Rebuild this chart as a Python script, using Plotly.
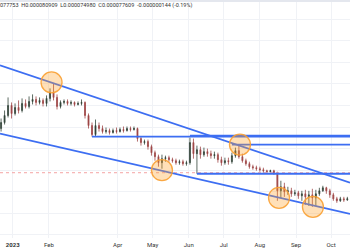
import numpy as np
import pandas as pd
import plotly.graph_objects as go

SCALE = 1e-7  # prices below are in units of 0.0000001

dates = pd.date_range("2022-12-22", periods=100, freq="3D")

open_ = [864, 876, 890, 910, 894, 906, 900, 914, 908, 918,
         922, 916, 920, 914, 924, 936, 926, 908, 916, 918,
         914, 916, 912, 914, 916, 890, 870, 852, 870, 864,
         858, 860, 856, 860, 858, 862, 860, 864, 862, 864,
         844, 836, 838, 828, 816, 808, 796, 804, 806, 802,
         800, 796, 798, 794, 796, 836, 814, 822, 812, 818,
         814, 810, 812, 802, 796, 800, 798, 810, 820, 808,
         800, 794, 788, 786, 784, 782, 780, 778, 780, 776,
         740, 748, 738, 740, 734, 736, 730, 734, 728, 732,
         726, 734, 740, 746, 740, 732, 724, 720, 724, 722]
close = [876, 890, 910, 894, 906, 900, 914, 908, 918, 922,
         916, 920, 914, 924, 936, 926, 908, 916, 918, 914,
         916, 912, 914, 916, 890, 870, 852, 870, 864, 858,
         860, 856, 860, 858, 862, 860, 864, 862, 864, 844,
         836, 838, 828, 816, 808, 796, 804, 806, 802, 800,
         796, 798, 794, 796, 836, 814, 822, 812, 818, 814,
         810, 812, 802, 796, 800, 798, 810, 820, 808, 800,
         794, 788, 786, 784, 782, 780, 778, 780, 776, 740,
         748, 738, 740, 734, 736, 730, 734, 728, 732, 726,
         734, 740, 746, 740, 732, 724, 720, 724, 722, 724]
high = [884, 900, 926, 916, 914, 920, 924, 922, 928, 932,
        928, 926, 924, 930, 944, 954, 932, 920, 922, 922,
        920, 918, 918, 922, 918, 894, 876, 882, 876, 870,
        866, 864, 864, 866, 866, 868, 868, 868, 868, 866,
        848, 842, 842, 832, 820, 812, 812, 810, 810, 806,
        804, 802, 802, 800, 846, 844, 830, 828, 826, 824,
        820, 818, 816, 808, 806, 806, 816, 826, 830, 814,
        804, 798, 792, 790, 788, 786, 782, 782, 782, 778,
        760, 756, 748, 746, 742, 740, 740, 742, 740, 744,
        742, 746, 750, 748, 744, 736, 728, 728, 728, 728]
low = [858, 872, 886, 884, 890, 894, 896, 904, 904, 912,
       910, 912, 908, 908, 918, 920, 902, 904, 912, 910,
       910, 908, 910, 910, 884, 864, 848, 848, 858, 854,
       854, 852, 854, 854, 856, 856, 858, 858, 860, 838,
       830, 832, 822, 810, 800, 788, 784, 798, 798, 796,
       792, 792, 790, 790, 792, 804, 774, 804, 808, 808,
       804, 804, 796, 790, 792, 792, 794, 806, 804, 796,
       790, 784, 782, 780, 778, 776, 774, 776, 772, 720,
       726, 728, 732, 728, 730, 724, 720, 712, 710, 708,
       710, 730, 738, 734, 726, 720, 716, 718, 718, 720]

# view window
X_START, X_END = "2022-12-21 02:00", "2023-10-17 07:00"
Y_MIN, Y_MAX = 646, 1120

# drawn trend channel (dates, prices)
upper_x, upper_y = [X_START, X_END], [990, 756]
lower_x, lower_y = [X_START, X_END], [854, 694]

# horizontal levels: start date and price
level_start = ["2023-03-10", "2023-06-02", "2023-07-08", "2023-06-08"]
level_price = [848, 850, 832, 774]

last_price = 776

# highlighted touch points
touch_x = ["2023-02-03 07:00", "2023-05-09", "2023-07-14 22:00",
           "2023-08-17 10:00", "2023-09-15 12:00"]
touch_y = [956, 781, 832, 726, 708]

tick_dates = ["2023-01-01", "2023-02-01", "2023-04-01", "2023-05-01", "2023-06-01",
              "2023-07-01", "2023-08-01", "2023-09-01", "2023-10-01"]
tick_text = ["<b>2023</b>", "Feb", "Apr", "May", "Jun", "Jul", "Aug", "Sep", "Oct"]

header = "077753  H0.000080909  L0.000074980  C0.000077609  -0.000000144 (-0.19%)"

s = lambda a: (np.array(a, dtype=float) * SCALE).tolist()

BLUE = "#3d6ef2"
fig = go.Figure()
fig.add_trace(go.Candlestick(
    x=dates, open=s(open_), high=s(high), low=s(low), close=s(close),
    increasing=dict(line=dict(color="#34453a", width=0.8), fillcolor="#2a3a30"),
    decreasing=dict(line=dict(color="#a04848", width=0.8), fillcolor="#9a4242"),
    whiskerwidth=0, showlegend=False, hoverinfo="skip"))

fig.add_trace(go.Scatter(x=[X_START, X_END], y=s([last_price, last_price]), mode="lines",
                         line=dict(color="#f4a3a3", width=1, dash="dot"), showlegend=False,
                         hoverinfo="skip"))
fig.add_trace(go.Scatter(x=upper_x, y=s(upper_y), mode="lines",
                         line=dict(color=BLUE, width=1.8), showlegend=False, hoverinfo="skip"))
fig.add_trace(go.Scatter(x=lower_x, y=s(lower_y), mode="lines",
                         line=dict(color=BLUE, width=1.8), showlegend=False, hoverinfo="skip"))
for d0, p in zip(level_start, level_price):
    fig.add_trace(go.Scatter(x=[d0, X_END], y=s([p, p]), mode="lines",
                             line=dict(color=BLUE, width=1.8), showlegend=False,
                             hoverinfo="skip"))
fig.add_trace(go.Scatter(x=touch_x, y=s(touch_y), mode="markers",
                         marker=dict(size=21, color="rgba(255,160,40,0.33)",
                                     line=dict(color="rgba(250,160,50,0.9)", width=1.3)),
                         showlegend=False, hoverinfo="skip"))

fig.update_layout(
    width=350, height=250, margin=dict(l=0, r=0, t=0, b=12),
    paper_bgcolor="white", plot_bgcolor="white", boxgap=0.6, hovermode=False,
    font=dict(family="Roboto, sans-serif", size=6, color="#333"),
    xaxis=dict(range=[X_START, X_END], type="date", rangeslider=dict(visible=False),
               tickvals=tick_dates, ticktext=tick_text, showgrid=True,
               gridcolor="#f0f2f6", gridwidth=1, zeroline=False, showline=False,
               ticks="", ticklabelstandoff=2, tickfont=dict(size=6, color="#333"),
               showspikes=False),
    yaxis=dict(range=[Y_MIN * SCALE, Y_MAX * SCALE], showticklabels=False,
               tick0=1082 * SCALE, dtick=43 * SCALE, showgrid=True,
               gridcolor="#f0f2f6", gridwidth=1, zeroline=False, showline=False),
    shapes=[dict(type="rect", xref="paper", yref="paper", x0=0, x1=1, y0=0.992, y1=1.0,
                 fillcolor="#e4e7ee", line=dict(width=0), layer="above")],
    annotations=[dict(text=header, xref="paper", yref="paper", x=-0.006, y=0.978,
                      xanchor="left", yanchor="middle", showarrow=False,
                      font=dict(size=5.5, color="#333"))],
)

fig.write_html("out.html", config={"staticPlot": True})
